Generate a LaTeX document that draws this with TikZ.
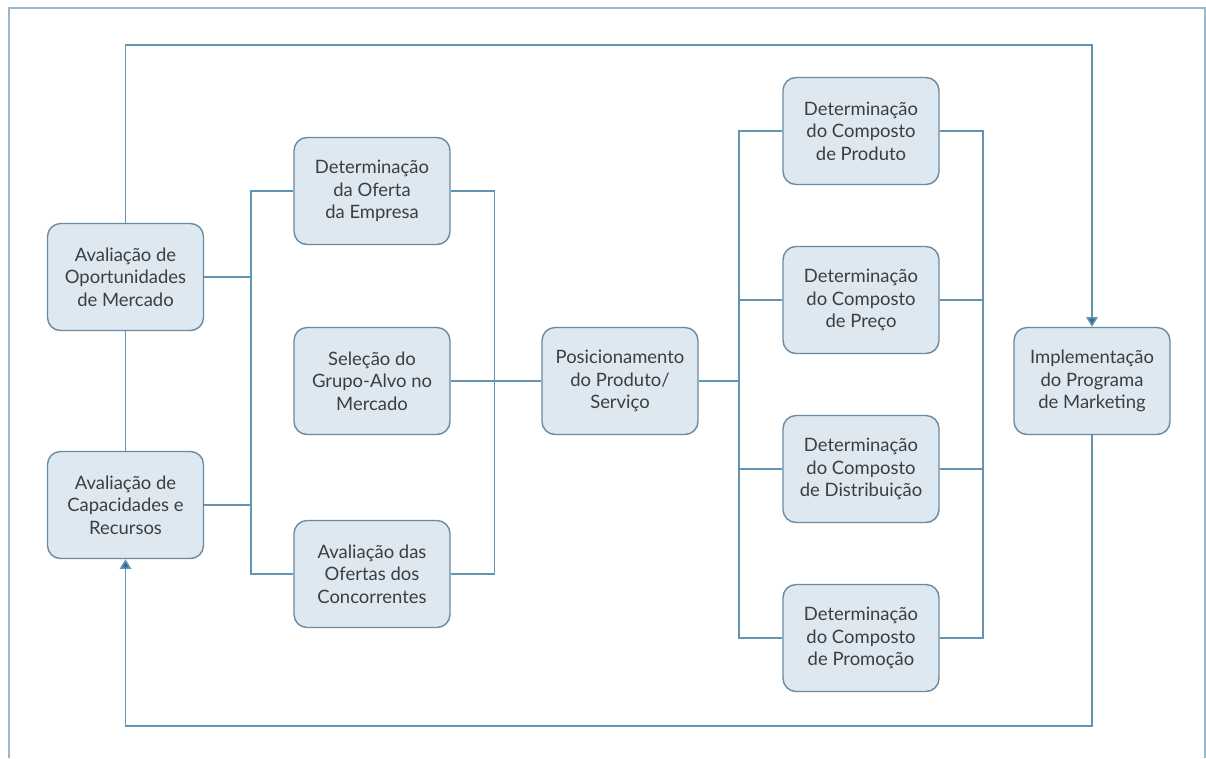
\documentclass[tikz,border=0pt]{standalone}
\usepackage{fontspec}
\setmainfont{Lato}
\usetikzlibrary{positioning}
\usetikzlibrary{arrows.meta}
\definecolor{linecol}{RGB}{100,148,180}
\definecolor{framecol}{RGB}{150,185,205}
\definecolor{boxfill}{RGB}{222,232,241}
\definecolor{boxdraw}{RGB}{104,138,163}
\definecolor{textcol}{RGB}{62,62,62}
\definecolor{tipcol}{RGB}{40,110,150}
\tikzset{>={Triangle[length=5.5pt,width=6.5pt,fill=tipcol]},
  etapa/.style = {draw=boxdraw,fill=boxfill,rounded corners=0.26cm,line width=0.8pt,
    minimum width=3.12cm,minimum height=2.14cm,align=center,text=textcol,
    font=\fontsize{10.5}{12.8}\selectfont,inner sep=2pt},
  liga/.style = {draw=linecol,line width=0.9pt}
}

\begin{document}
\begin{tikzpicture}[x=0.02cm,y=-0.02cm]
      \useasboundingbox (0,0) rectangle (1206,758);
      % moldura
      \draw[framecol,line width=1pt] (9,758) -- (9,8) -- (1205,8) -- (1205,758);
      \coordinate (b1) at (251,0);
      \coordinate (b2) at (739,0);
      \coordinate (b3) at (983,0);
      \node[etapa] (AO) at (125.5,277) {Avaliação de\\Oportunidades\\de Mercado};
      \node[etapa] (AC) at (125.5,505) {Avaliação de\\Capacidades e\\Recursos};
      \node[etapa] (DO) at (372,191) {Determinação\\da Oferta\\da Empresa};
      \node[etapa] (SG) at (372,381) {Seleção do\\Grupo-Alvo no\\Mercado};
      \node[etapa] (OC) at (372,574) {Avaliação das\\Ofertas dos\\Concorrentes};
      \node[etapa] (PP) at (620,381) {Posicionamento\\do Produto/\\Serviço};
      \node[etapa] (CP) at (861,131) {Determinação\\do Composto\\de Produto};
      \node[etapa] (CR) at (861,300) {Determinação\\do Composto\\de Preço};
      \node[etapa] (CD) at (861,469) {Determinação\\do Composto\\de Distribuição};
      \node[etapa] (CM) at (861,638) {Determinação\\do Composto\\de Promoção};
      \node[etapa] (IM) at (1092,381) {Implementação\\do Programa\\de Marketing};
      % ligacoes
      \draw[liga] (AO) -- (AC);
      \draw[liga] (DO.west) -| (b1 |- OC.west) -- (OC.west);
      \draw[liga] (AO.east) -- (AO.east -| b1);
      \draw[liga] (AC.east) -- (AC.east -| b1);
      \draw[liga] (DO.east) -- ++(44,0) |- (OC.east);
      \draw[liga] (SG) -- (PP);
      \draw[liga] (CP.west) -| (b2 |- CM.west) -- (CM.west);
      \draw[liga] (PP.east) -- (PP.east -| b2);
      \draw[liga] (CR.west) -- (CR.west -| b2);
      \draw[liga] (CD.west) -- (CD.west -| b2);
      \draw[liga] (CP.east) -| (b3 |- CM.east) -- (CM.east);
      \draw[liga] (CR.east) -- (CR.east -| b3);
      \draw[liga] (CD.east) -- (CD.east -| b3);
      \draw[liga,->] (AO.north) -- ++(0,-178) -| (IM.north);
      \draw[liga,->] (IM.south) -- ++(0,291) -| (AC.south);
\end{tikzpicture}
\end{document}
